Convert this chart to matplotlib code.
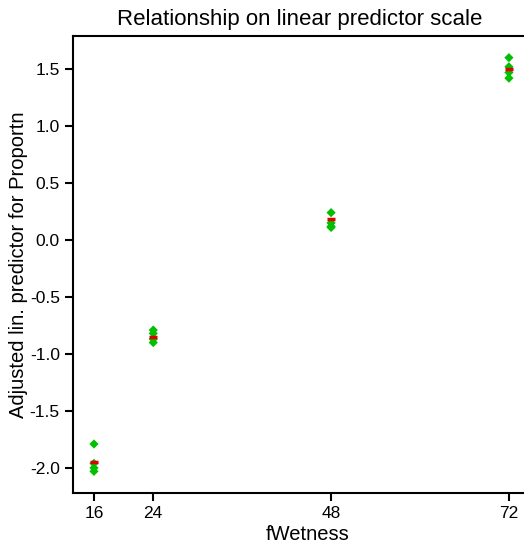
import matplotlib
matplotlib.use("Agg")
import matplotlib.pyplot as plt
import numpy as np

plt.rcParams['font.family'] = ['Liberation Sans', 'DejaVu Sans']

wetness = [16, 24, 48, 72]
# adjusted linear predictor values per level (green diamonds)
pts_16 = [-1.79, -1.96, -2.00, -2.03]
pts_24 = [-0.79, -0.82, -0.87, -0.90]
pts_48 = [0.24, 0.15, 0.12, 0.11]
pts_72 = [1.60, 1.52, 1.47, 1.42]
# fitted values (red dashes)
fitted = [-1.95, -0.85, 0.18, 1.50]

fig = plt.figure(figsize=(5.24, 5.47), dpi=100)
ax = fig.add_axes([73 / 524, 54 / 547, 470 / 524, 457 / 547])

for x, ys in zip(wetness, [pts_16, pts_24, pts_48, pts_72]):
    ax.scatter([x] * len(ys), ys, marker='D', s=22, color='#00c000',
               edgecolors='none', zorder=3)
ax.scatter(wetness, fitted, marker='_', s=36, linewidths=2.5,
           color='#e00000', zorder=4)

ax.set_xlim(13.17, 76.6)
ax.set_ylim(-2.22, 1.79)
ax.set_xticks(wetness)
ax.set_yticks(np.arange(-2.0, 1.51, 0.5))
ax.set_yticklabels(['%.1f' % v for v in np.arange(-2.0, 1.51, 0.5)])

for s in ['left', 'bottom', 'top']:
    ax.spines[s].set_linewidth(1.5)
ax.spines['right'].set_visible(False)
ax.tick_params(width=1.5, length=6, labelsize=12.5)

ax.set_title('Relationship on linear predictor scale', fontsize=16, pad=8,
             x=(300 - 73) / 470)
ax.set_xlabel('fWetness', fontsize=14.5, labelpad=3)
ax.set_ylabel('Adjusted lin. predictor for Proportn', fontsize=14.5, labelpad=1)

fig.savefig('out.png', dpi=100)
